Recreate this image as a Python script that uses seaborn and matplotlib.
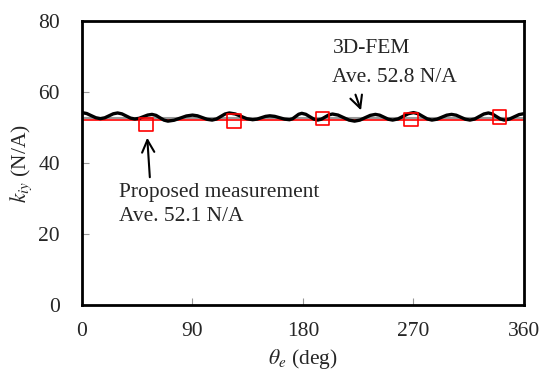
import matplotlib
matplotlib.use("Agg")
import matplotlib.pyplot as plt
import seaborn as sns

# 3D-FEM curve
fem_theta = [0, 3.8, 7.5, 11.3, 15, 18.5, 22, 25.5, 29, 32.5, 36, 39.5, 43, 46.5, 50, 53.5,
             57, 60.3, 63.5, 66.8, 70, 75, 80, 85, 90, 94, 98, 102, 106, 109.5, 113, 116.5,
             120, 124.8, 129.5, 134.3, 139, 142.5, 146, 149.5, 153, 157, 161, 165,
             169, 171.5, 174, 176.5, 179, 182.3, 185.5, 188.8, 192, 195, 198, 201,
             204, 208.5, 213, 217.5, 222, 226.3, 230.5, 234.8, 239, 242.5, 246, 249.5,
             253, 257.3, 261.5, 265.8, 270, 273.8, 277.5, 281.3, 285, 289, 293, 297,
             301, 304.8, 308.5, 312.3, 316, 319.8, 323.5, 327.3, 331, 334.3, 337.5, 340.8,
             344, 348, 352, 356, 360]
fem_k = [54.2, 53.95, 53.35, 52.75, 52.5, 52.73, 53.3, 53.87, 54.1, 53.85, 53.25, 52.65, 52.4, 52.59, 53.05, 53.51,
         53.7, 53.42, 52.75, 52.08, 51.8, 52.05, 52.65, 53.25, 53.5, 53.3, 52.8, 52.3, 52.1, 52.39, 53.1, 53.81,
         54.1, 53.82, 53.15, 52.48, 52.2, 52.36, 52.75, 53.14, 53.3, 53.14, 52.75, 52.36,
         52.2, 52.46, 53.1, 53.74, 54.0, 53.72, 53.05, 52.38, 52.1, 52.35, 52.95, 53.55,
         53.8, 53.51, 52.8, 52.09, 51.8, 52.08, 52.75, 53.42, 53.7, 53.47, 52.9, 52.33,
         52.1, 52.41, 53.15, 53.89, 54.2, 53.89, 53.15, 52.41, 52.1, 52.33, 52.9, 53.47,
         53.7, 53.47, 52.9, 52.33, 52.1, 52.39, 53.1, 53.81, 54.1, 53.81, 53.1, 52.39,
         52.1, 52.36, 53.0, 53.64, 53.9]

# measured points
meas_theta = [52, 124, 196, 268, 340]
meas_k = [50.8, 51.9, 52.6, 52.3, 53.0]

fem_avg = 52.8
meas_avg = 52.1

sns.set_style("ticks")
plt.rcParams["font.family"] = ["Liberation Serif", "DejaVu Serif"]
plt.rcParams["mathtext.fontset"] = "stix"

fig, ax = plt.subplots(figsize=(5.43, 3.70), dpi=100)
fig.subplots_adjust(left=0.151, right=0.965, bottom=0.176, top=0.943)

ax.axhline(fem_avg, color="#999999", lw=1.5, zorder=1)
ax.axhline(meas_avg, color="red", lw=1.2, zorder=2)
sns.lineplot(x=fem_theta, y=fem_k, ax=ax, color="black", lw=2.4, zorder=3,
             solid_joinstyle="round")
sns.scatterplot(x=meas_theta, y=meas_k, ax=ax, marker="s", s=95,
                facecolor="none", edgecolor="red", linewidth=1.2, zorder=4)

ax.set_xlim(0, 360)
ax.set_ylim(0, 80)
ax.set_xticks([0, 90, 180, 270, 360])
ax.set_yticks([0, 20, 40, 60, 80])
ax.tick_params(direction="in", length=5, color="#999999", labelsize=15.5)
ax.tick_params(axis="y", pad=16)
ax.tick_params(axis="x", pad=12)
for s in ax.spines.values():
    s.set_linewidth(2)
    s.set_color("black")

ax.set_xlabel(r"$\theta_e$ (deg)", fontsize=15.5, labelpad=5)
ax.set_ylabel(r"$k_{iy}$ (N/A)", fontsize=15.5, labelpad=3)

ax.text(204, 72.4, "3D-FEM", fontsize=15.5, va="center")
ax.text(204, 64.2, "Ave. 52.8 N/A", fontsize=15.5, va="center")
ax.annotate("", xy=(228, 54.1), xytext=(222, 60.0),
            arrowprops=dict(arrowstyle="->", lw=1.5, color="black", mutation_scale=22))

ax.text(30, 31.8, "Proposed measurement", fontsize=15.5, va="center")
ax.text(30, 24.8, "Ave. 52.1 N/A", fontsize=15.5, va="center")
ax.annotate("", xy=(53, 47.9), xytext=(55.4, 35.2),
            arrowprops=dict(arrowstyle="->", lw=1.5, color="black", mutation_scale=22))

fig.savefig("out.png", dpi=100)
